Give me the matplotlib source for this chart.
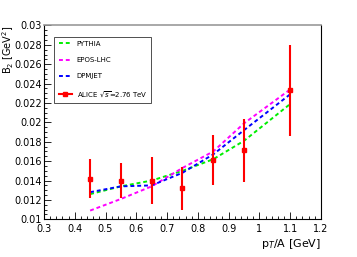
import matplotlib
matplotlib.use('Agg')
import matplotlib.pyplot as plt
from matplotlib.ticker import MultipleLocator
from matplotlib.lines import Line2D

pt = [0.45, 0.55, 0.65, 0.75, 0.85, 0.95, 1.1]
alice = [0.0142, 0.0140, 0.0140, 0.0132, 0.0161, 0.0171, 0.0233]
alice_err = [0.0020, 0.0018, 0.0024, 0.0022, 0.0026, 0.0032, 0.0047]
pythia = [0.0126, 0.0134, 0.0140, 0.0150, 0.0162, 0.0181, 0.0219]
epos = [0.0109, 0.0121, 0.0134, 0.0153, 0.0170, 0.0199, 0.0234]
dpmjet = [0.0128, 0.0134, 0.0135, 0.0148, 0.0167, 0.0192, 0.0229]

fig = plt.figure(figsize=(3.57, 2.57), dpi=100)
ax = fig.add_axes([0.1232, 0.1467, 0.7758, 0.7541])

dash = (0, (2, 1.5))
l1, = ax.plot(pt, pythia, color='#00ee00', ls=dash, lw=1.4)
l2, = ax.plot(pt, epos, color='#ff00ff', ls=dash, lw=1.4)
l3, = ax.plot(pt, dpmjet, color='#0000ff', ls=dash, lw=1.4)
ax.errorbar(pt, alice, yerr=alice_err, color='#ff0000', marker='s', ms=2.5,
            lw=1.5, ls='none', capsize=0)
l4 = Line2D([], [], color='#ff0000', marker='s', ms=2.5, lw=1.5)

ax.set_xlim(0.3, 1.2)
ax.set_ylim(0.01, 0.03)
ax.xaxis.set_major_locator(MultipleLocator(0.1))
ax.xaxis.set_minor_locator(MultipleLocator(0.02))
ax.yaxis.set_major_locator(MultipleLocator(0.002))
ax.yaxis.set_minor_locator(MultipleLocator(0.0005))
ax.tick_params(which='both', direction='in', top=False, right=False, labelsize=7)
ax.tick_params(axis='y', pad=1.5)
ax.tick_params(axis='x', pad=3.5)
ax.tick_params(which='major', length=5, width=0.6)
ax.tick_params(which='minor', length=2.5, width=0.6)
ax.set_xticklabels([f'{v:g}' for v in ax.get_xticks()])
ax.set_yticklabels([f'{v:g}' for v in ax.get_yticks()])
for s in ['left', 'bottom', 'right']:
    ax.spines[s].set_linewidth(0.8)
ax.spines['top'].set_color('#999999')
ax.spines['top'].set_linewidth(1.2)

fig.text(0.022, 0.9, r'B$_2$ [GeV$^2$]', rotation=90, ha='center', va='top', fontsize=7)
fig.text(0.899, 0.025, r'p$_T$/A [GeV]', ha='right', va='bottom', fontsize=8)

leg = ax.legend([l1, l2, l3, l4],
                ['PYTHIA', 'EPOS-LHC', 'DPMJET', r'ALICE $\sqrt{s}$=2.76 TeV'],
                loc='upper left', bbox_to_anchor=(0.025, 0.96), fontsize=5,
                frameon=True, fancybox=False, edgecolor='black', handlelength=2.0,
                labelspacing=1.45, borderpad=0.6, handletextpad=0.6)
leg.get_frame().set_linewidth(0.6)

fig.savefig('out.png', dpi=100)
